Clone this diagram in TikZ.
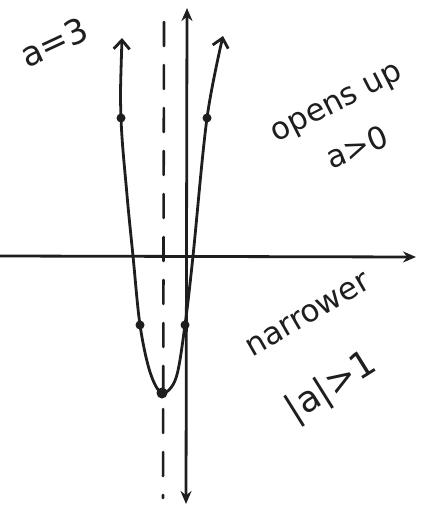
\documentclass[tikz,border=0pt]{standalone}
\usepackage{fontspec}
\setmainfont{DejaVu Sans}
\usetikzlibrary{arrows.meta}
\definecolor{ink}{HTML}{1E1E1E}
\begin{document}
\begin{tikzpicture}[x=1pt,y=-1pt,line cap=round,line join=round]
\tikzset{
  axisline/.style={draw=ink,line width=2.8pt},
  symline/.style={draw=ink,line width=2.6pt,dash pattern=on 24pt off 19pt},
  curveline/.style={draw=ink,line width=2.8pt},
  pt/.style={circle,fill=ink,inner sep=0pt,minimum size=9pt},
  hand/.style={text=ink,font=\fontsize{31}{33}\selectfont,inner sep=0pt}
}
\useasboundingbox (0,0) rectangle (436,506);
% axes
\coordinate (xl) at (0,256);
\coordinate (xr) at (416,257);
\coordinate (yt) at (187,8);
\coordinate (yb) at (186,504);
\draw[axisline,-{Stealth[length=13pt,width=11pt]}] (xl) -- (xr);
\draw[axisline,{Stealth[length=13pt,width=11pt]}-{Stealth[length=13pt,width=11pt]}] (yb) -- (yt);
% axis of symmetry
\coordinate (st) at (164,22);
\coordinate (sb) at (163,498);
\draw[symline] (st) -- (sb);
% parabola
\draw[curveline,{Straight Barb[length=9pt,width=16pt]}-{Straight Barb[length=9pt,width=16pt]}]
  plot[smooth,tension=0.55] coordinates {(122,38) (121,118) (127,195) (133,256) (140,325) (150,372) (162,393) (176,378) (185,325) (193,256) (207,118) (223,36)};
% points
\node[pt] (p1) at (121,118) {};
\node[pt] (p2) at (207,118) {};
\node[pt] (p3) at (140,325) {};
\node[pt] (p4) at (185,325) {};
\node[pt,minimum size=11pt] (v) at (162,393) {};
% labels
\node[hand,rotate=25,font=\fontsize{34}{36}\selectfont] (ta) at (54,42) {a=3};
\node[hand,rotate=27] (tb) at (338,105) {opens up};
\node[hand,rotate=22] (tc) at (357,147) {a>0};
\node[hand,rotate=30] (td) at (308,315) {narrower};
\node[hand,rotate=32,font=\fontsize{36}{38}\selectfont] (te) at (332,388) {|a|>1};
\end{tikzpicture}
\end{document}
